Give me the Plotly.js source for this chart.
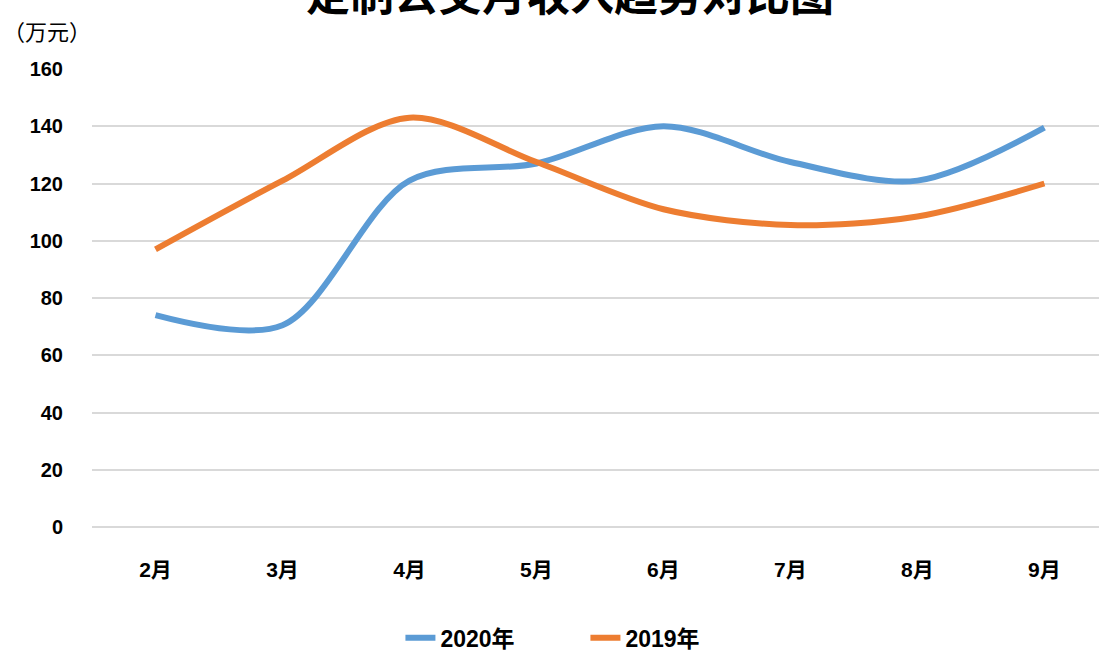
<!DOCTYPE html>
<html>
<head>
<meta charset="utf-8">
<script src="https://cdn.plot.ly/plotly-3.0.1.min.js"></script>
<style>html,body{margin:0;padding:0;background:#fff;}#chart{width:1099px;height:652px;}</style>
</head>
<body>
<div id="chart"></div>
<script>
const categories = ['2月','3月','4月','5月','6月','7月','8月','9月'];
const values2020 = [74, 70.5, 121, 127, 140, 127.5, 121, 139.5];
const values2019 = [97, 121, 143, 127.5, 111, 105.5, 108.5, 120];
const seriesNames = ['2020年','2019年'];
const yTicks = [0,20,40,60,80,100,120,140,160];

const FONT = 'Liberation Sans, "Noto Sans CJK SC", sans-serif';

const traces = [
  {x: categories, y: values2020, name: seriesNames[0], type: 'scatter', mode: 'lines',
   line: {color: '#5B9BD5', width: 6, shape: 'spline', smoothing: 0.9}},
  {x: categories, y: values2019, name: seriesNames[1], type: 'scatter', mode: 'lines',
   line: {color: '#ED7D31', width: 6, shape: 'spline', smoothing: 0.9}}
];

const layout = {
  width: 1099, height: 652,
  paper_bgcolor: '#fff', plot_bgcolor: '#fff',
  margin: {l: 92, r: 0, t: 69, b: 125, autoexpand: false},
  font: {family: FONT, color: '#000'},
  xaxis: {type: 'category', range: [-0.5, 7.43], showgrid: false, zeroline: false, showline: false,
          ticks: 'outside', ticklen: 24, tickcolor: 'rgba(0,0,0,0)',
          tickfont: {size: 21, family: FONT, weight: 'bold'}},
  yaxis: {range: [0, 160], tickvals: yTicks, showgrid: true, gridcolor: '#D9D9D9', gridwidth: 2,
          zeroline: true, zerolinecolor: '#D9D9D9', zerolinewidth: 2, showline: false,
          ticks: 'outside', ticklen: 24, tickcolor: 'rgba(0,0,0,0)',
          tickfont: {size: 20, family: FONT, weight: 'bold'}},
  showlegend: true,
  legend: {orientation: 'h', x: 0.49, xanchor: 'center', y: -0.195, yanchor: 'top',
           tracegroupgap: 0, itemclick: false,
           font: {size: 23, family: FONT, weight: 'bold'}, entrywidth: 140},
  annotations: [
    {text: '定制公交月收入趋势对比图', xref: 'paper', yref: 'paper', x: 0.475, y: 1.168,
     xanchor: 'center', yanchor: 'middle', showarrow: false,
     font: {size: 44, family: '"Noto Sans CJK SC", sans-serif', weight: 'bold', color: '#000'}},
    {text: '（万元）', xref: 'paper', yref: 'paper', x: -0.09, y: 1.085, xanchor: 'left', yanchor: 'middle',
     showarrow: false, font: {size: 22, family: '"Noto Sans CJK SC", sans-serif'}}
  ]
};

Plotly.newPlot('chart', traces, layout, {displayModeBar: false});
</script>
</body>
</html>
